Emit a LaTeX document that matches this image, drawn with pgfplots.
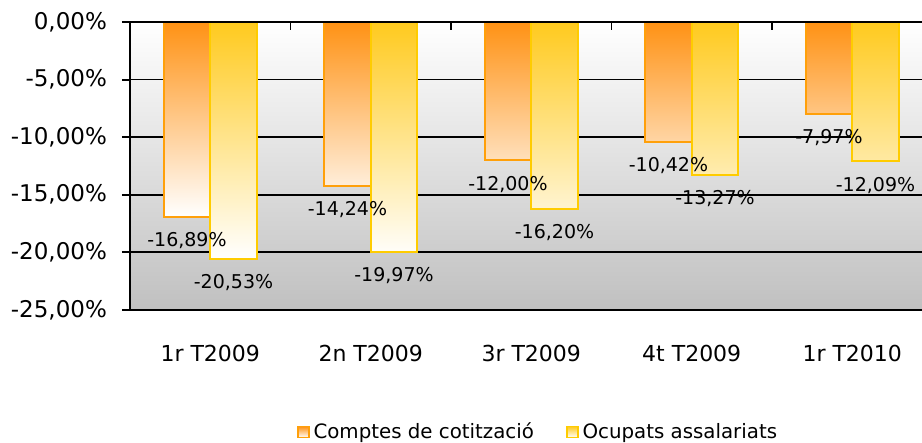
\documentclass[border=0pt]{standalone}
\usepackage{fontspec}
\setmainfont{DejaVu Sans}
\usepackage{pgfplots}
\pgfplotsset{compat=1.18}
\definecolor{orTop}{RGB}{255,146,20}
\definecolor{orLine}{RGB}{255,160,10}
\definecolor{yeTop}{RGB}{255,202,30}
\definecolor{yeLine}{RGB}{255,204,0}
\definecolor{bgBot}{RGB}{192,192,192}
\begin{document}
\begin{tikzpicture}
\path[use as bounding box] (-65pt,-66.5pt) rectangle (396pt,155pt);
\begin{axis}[
  at={(0,0)}, anchor=south west,
  scale only axis, width=396pt, height=144pt,
  xmin=-0.5, xmax=4.4346, ymin=-25, ymax=0,
  clip=false,
  axis lines*=left,
  axis line style={-, black, line width=1pt},
  axis background/.style={top color=white, bottom color=bgBot},
  ybar=0pt, bar width=0.29,
  xtick={0,1,2,3,4},
  xticklabels={1r T2009, 2n T2009, 3r T2009, 4t T2009, 1r T2010},
  x tick style={draw=none},
  xticklabel style={yshift=-10pt, font=\fontsize{11}{13}\selectfont},
  ytick={-25,-20,-15,-10,-5,0},
  yticklabels={{-25,00\%},{-20,00\%},{-15,00\%},{-10,00\%},{-5,00\%},{0,00\%}},
  ytick align=outside, major tick length=4pt,
  y tick style={black, line width=1pt},
  yticklabel style={xshift=-4pt, font=\fontsize{11.5}{13}\selectfont},
  ymajorgrids, major grid style={black, line width=0.9pt},
  point meta=explicit symbolic,
  nodes near coords,
  every node near coord/.append style={anchor=center, yshift=-12pt, font=\fontsize{9.5}{11}\selectfont, text=black, fill=none},
  legend style={at={(0.5,-0.4236)}, anchor=center, draw=none, fill=none,
    xshift=6.5pt,
    legend columns=2, font=\fontsize{9.9}{12}\selectfont,
    /tikz/every even column/.append style={column sep=14pt}},
  legend image code/.code={\draw[#1, line width=0.8pt] (0pt,-2.75pt) rectangle (5.5pt,2.75pt);},
]
\addplot[draw=orLine, line width=1pt, top color=orTop, middle color=orTop!30!white, bottom color=white]
  coordinates {(0,-16.89) [-16,89\%] (1,-14.24) [-14,24\%] (2,-12.00) [-12,00\%] (3,-10.42) [-10,42\%] (4,-7.97) [-7,97\%]};
\addlegendentry{Comptes de cotització}
\addplot[draw=yeLine, line width=1pt, top color=yeTop, middle color=yeTop!35!white, bottom color=white]
  coordinates {(0,-20.53) [-20,53\%] (1,-19.97) [-19,97\%] (2,-16.20) [-16,20\%] (3,-13.27) [-13,27\%] (4,-12.09) [-12,09\%]};
\addlegendentry{Ocupats assalariats}
\end{axis}
\draw[black, line width=1.2pt] (0,144pt) -- (396pt,144pt);
\foreach \k in {1,2,3,4} \draw[black, line width=0.9pt] (80.25pt*\k,144pt) -- ++(0,-4pt);
\end{tikzpicture}
\end{document}
